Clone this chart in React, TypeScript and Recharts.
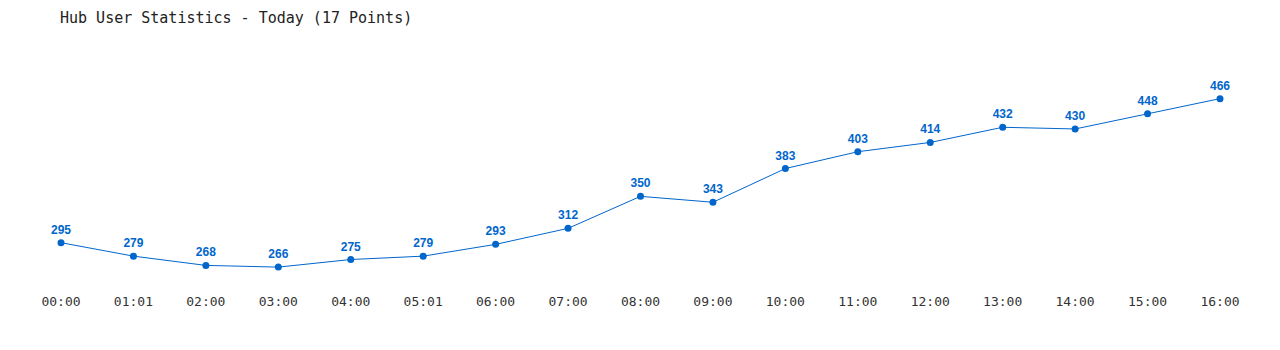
import React from "react";
import { LineChart, Line, XAxis, YAxis, LabelList } from "recharts";

const times = [
  "00:00", "01:01", "02:00", "03:00", "04:00", "05:01", "06:00", "07:00", "08:00",
  "09:00", "10:00", "11:00", "12:00", "13:00", "14:00", "15:00", "16:00",
];
const users = [295, 279, 268, 266, 275, 279, 293, 312, 350, 343, 383, 403, 414, 432, 430, 448, 466];

const data = times.map((t, i) => ({ time: t, users: users[i] }));

const mono = "'DejaVu Sans Mono', 'Liberation Mono', monospace";

export default function App() {
  return (
    <div style={{ position: "relative", width: 1264, height: 342 }}>
      <div
        style={{
          position: "absolute",
          left: 52,
          top: 1,
          fontFamily: mono,
          fontSize: 15,
          color: "#222",
          whiteSpace: "pre",
        }}
      >
        Hub User Statistics - Today (17 Points)
      </div>
      <LineChart
        width={1264}
        height={342}
        data={data}
        margin={{ top: 62, right: 52, bottom: 31, left: 53 }}
      >
        <XAxis
          dataKey="time"
          axisLine={false}
          tickLine={false}
          interval={0}
          height={30}
          tick={{ fontFamily: mono, fontSize: 13, fill: "#333" }}
        />
        <YAxis hide domain={[240, 500]} />
        <Line
          type="linear"
          dataKey="users"
          stroke="#0066cc"
          strokeWidth={1}
          dot={{ r: 3.5, fill: "#0066cc", stroke: "#0066cc", strokeWidth: 0 }}
          isAnimationActive={false}
        >
          <LabelList
            dataKey="users"
            position="top"
            offset={9}
            style={{
              fontFamily: "'Liberation Sans', Arial, sans-serif",
              fontWeight: "bold",
              fontSize: 12,
              fill: "#0066cc",
            }}
          />
        </Line>
      </LineChart>
    </div>
  );
}
